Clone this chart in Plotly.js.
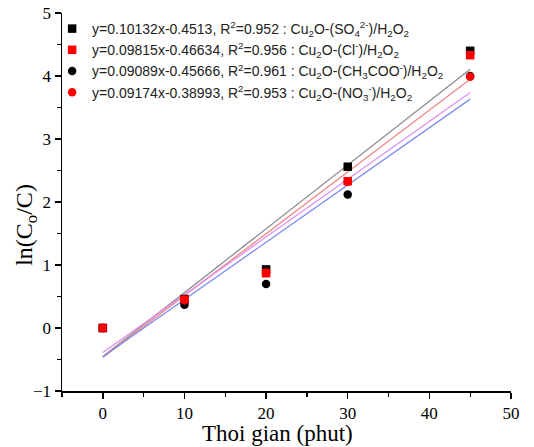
<!DOCTYPE html>
<html>
<head>
<meta charset="utf-8">
<script src="https://cdn.plot.ly/plotly-3.0.1.min.js"></script>
<style>html,body{margin:0;padding:0;background:#fff;}#chart{width:534px;height:447px;}</style>
</head>
<body>
<div id="chart"></div>
<script>
// Time (minutes)
var timeMin = [0, 10, 20, 30, 45];
// ln(Co/C) measured values
var so4 = [0, 0.46, 0.93, 2.56, 4.40];
var cl = [0, 0.45, 0.87, 2.33, 4.33];
var ch3coo = [0, 0.37, 0.70, 2.12, 4.00];
var no3 = [0, 0.44, 0.88, 2.32, 3.99];
// Linear fit lines: endpoints at x = 0 and x = 45
var fitX = [0, 45];
var fitSO4 = [-0.4513, 4.108];
var fitCl = [-0.466, 3.950];
var fitCH3COO = [-0.457, 3.633];
var fitNO3 = [-0.390, 3.738];
// Legend labels
var labels = [
  'y=0.10132x-0.4513, R<sup>2</sup>=0.952 : Cu<sub>2</sub>O-(SO<sub>4</sub><sup>2-</sup>)/H<sub>2</sub>O<sub>2</sub>',
  'y=0.09815x-0.46634, R<sup>2</sup>=0.956 : Cu<sub>2</sub>O-(Cl<sup>-</sup>)/H<sub>2</sub>O<sub>2</sub>',
  'y=0.09089x-0.45666, R<sup>2</sup>=0.961 : Cu<sub>2</sub>O-(CH<sub>3</sub>COO<sup>-</sup>)/H<sub>2</sub>O<sub>2</sub>',
  'y=0.09174x-0.38993, R<sup>2</sup>=0.953 : Cu<sub>2</sub>O-(NO<sub>3</sub><sup>-</sup>)/H<sub>2</sub>O<sub>2</sub>'
];
var xTitle = 'Thoi gian (phut)';
var yTitle = 'ln(C<sub>o</sub>/C)';

function fit(y, color) {
  return {x: fitX, y: y, mode: 'lines', line: {color: color, width: 1.3}, showlegend: false, hoverinfo: 'skip'};
}
function pts(y, color, symbol, name) {
  return {x: timeMin, y: y, mode: 'markers', name: name,
    marker: {color: color, symbol: symbol, size: 8.5, line: {width: 0}}};
}

var data = [
  fit(fitSO4, '#8c8c8c'),
  fit(fitCl, '#f08a8a'),
  fit(fitNO3, '#e08ef0'),
  fit(fitCH3COO, '#7f8cf0'),
  pts(so4, '#000000', 'square', labels[0]),
  pts(cl, '#ff0000', 'square', labels[1]),
  pts(ch3coo, '#000000', 'circle', labels[2]),
  pts(no3, '#ff0000', 'circle', labels[3])
];

var serif = 'Liberation Serif, Times New Roman, serif';
var axisFont = {family: serif, size: 17, color: '#000'};
var layout = {
  width: 534, height: 447,
  margin: {l: 62, r: 23, t: 13, b: 56},
  paper_bgcolor: '#fff', plot_bgcolor: '#fff',
  showlegend: true,
  legend: {x: -0.022, y: 1.0, xanchor: 'left', yanchor: 'top', bgcolor: 'rgba(0,0,0,0)',
    font: {family: 'Liberation Sans, Arial, sans-serif', size: 14, color: '#222'},
    tracegroupgap: 0, itemwidth: 30},
  xaxis: {
    range: [-5, 50], dtick: 10, tick0: 0, showgrid: false, zeroline: false,
    showline: true, linecolor: '#000', linewidth: 1.5,
    ticks: 'outside', ticklen: 6, tickwidth: 1.5, tickcolor: '#000',
    minor: {dtick: 5, ticks: 'outside', ticklen: 4, tickwidth: 1.2, tickcolor: '#000', showgrid: false},
    tickfont: axisFont
  },
  yaxis: {
    range: [-1, 5], dtick: 1, showgrid: false, zeroline: false,
    showline: true, linecolor: '#000', linewidth: 1.5,
    ticks: 'outside', ticklen: 6, tickwidth: 1.5, tickcolor: '#000',
    minor: {dtick: 0.5, ticks: 'outside', ticklen: 4, tickwidth: 1.2, tickcolor: '#000', showgrid: false},
    tickfont: axisFont
  },
  annotations: [
    {text: xTitle, xref: 'paper', yref: 'paper', x: 0.48, y: -0.113, xanchor: 'center', yanchor: 'middle',
     showarrow: false, font: {family: serif, size: 23, color: '#000'}},
    {text: yTitle, xref: 'paper', yref: 'paper', x: -0.082, y: 0.44, xanchor: 'center', yanchor: 'middle',
     textangle: -90, showarrow: false, font: {family: serif, size: 24, color: '#000'}}
  ]
};
Plotly.newPlot('chart', data, layout, {displayModeBar: false, staticPlot: true});
</script>
</body>
</html>
